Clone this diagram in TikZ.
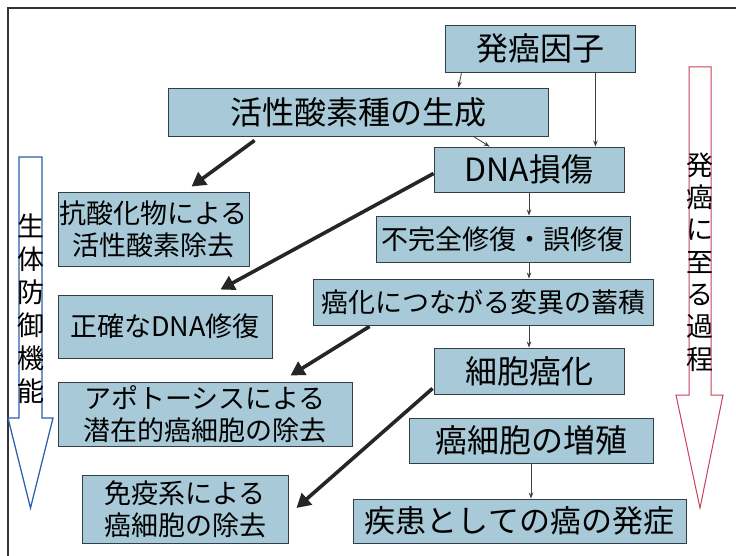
\documentclass[tikz,border=0pt]{standalone}
\usepackage{fontspec}
\setmainfont{Noto Sans CJK JP}
\usetikzlibrary{arrows.meta,calc}
\definecolor{boxfill}{RGB}{168,202,216}
\definecolor{boxline}{RGB}{50,62,72}
\definecolor{defblue}{RGB}{46,95,170}
\definecolor{procred}{RGB}{200,64,90}
\tikzset{
  box/.style={draw=boxline, fill=boxfill, line width=0.9pt, inner sep=0pt, align=center, text=black},
  big/.style={font=\fontsize{32}{36}\selectfont},
  mid/.style={font=\fontsize{27}{32}\selectfont},
  thin arrow/.style={draw=black!75, line width=0.8pt, -{Stealth[length=6pt,width=4.5pt]}},
  thick arrow/.style={draw=black!85, line width=3.6pt, -{Triangle[length=14pt,width=15pt]}},
  side/.style={font=\fontsize{27}{33}\selectfont, align=center, inner sep=0pt}
}
\begin{document}
\begin{tikzpicture}[x=1pt,y=-1pt]
\useasboundingbox (0,0) rectangle (736,556);
\fill[white] (0,0) rectangle (736,556);
% frame
\draw[black!80, line width=1.2pt] (736,8) -- (8,8) -- (8,556);

% process boxes
\node[box,big,minimum width=190pt,minimum height=47pt] (n1) at (540,48.5) {発癌因子};
\node[box,big,minimum width=380pt,minimum height=48pt] (n2) at (358,112) {活性酸素種の生成};
\node[box,big,minimum width=190pt,minimum height=45pt] (n3) at (529,169.5) {DNA損傷};
\node[box,mid,minimum width=254pt,minimum height=46pt] (n4) at (503,239) {不完全修復・誤修復};
\node[box,mid,minimum width=340pt,minimum height=46pt] (n5) at (483,302) {癌化につながる変異の蓄積};
\node[box,big,minimum width=190pt,minimum height=46pt] (n6) at (529,371) {細胞癌化};
\node[box,big,minimum width=244pt,minimum height=45pt] (n7) at (531,440.5) {癌細胞の増殖};
\node[box,font=\fontsize{31}{36}\selectfont,minimum width=333pt,minimum height=44pt] (n8) at (519.5,521) {疾患としての癌の発症};

% defence boxes
\node[box,mid,minimum width=191pt,minimum height=74pt] (m1) at (153.5,229) {抗酸化物による\\活性酸素除去};
\node[box,mid,minimum width=214pt,minimum height=63pt] (m2) at (165,326.5) {正確なDNA修復};
\node[box,mid,minimum width=294pt,minimum height=64pt] (m3) at (205,414) {アポトーシスによる\\潜在的癌細胞の除去};
\node[box,mid,minimum width=206pt,minimum height=68pt] (m4) at (185,509) {免疫系による\\癌細胞の除去};

% thin arrows
\draw[thin arrow] ($(n1.south west)+(17,0)$) -- ($(n2.north east)+(-90,0)$);
\draw[thin arrow] ($(n1.south east)+(-40,0)$) -- ($(n3.north east)+(-29,0)$);
\draw[thin arrow] ($(n2.south east)+(-75,0)$) -- ($(n3.north west)+(56,0)$);
\draw[thin arrow] (n3.south) -- (n3.south |- n4.north);
\draw[thin arrow] (n4.south -| n3.south) -- (n5.north -| n3.south);
\draw[thin arrow] (n5.south -| n6.north) -- (n6.north);
\draw[thin arrow] (n7.south) -- (n7.south |- n8.north);

% thick arrows
\draw[thick arrow] ($(n2.south west)+(87,4)$) -- ($(m1.north west)+(134,-5)$);
\draw[thick arrow] ($(n3.west)+(0,4)$) -- ($(m2.north east)+(-52,-5)$);
\draw[thick arrow] ($(n5.south west)+(57,1)$) -- ($(m3.north east)+(-62,-6)$);
\draw[thick arrow] ($(n6.south west)+(-1,-6)$) -- ($(m4.east)+(8,-1)$);

% side arrows
\draw[defblue, line width=1.3pt, fill=white] (19,157) -- (42,157) -- (42,418) -- (53,418) -- (30.5,508) -- (8,418) -- (19,418) -- cycle;
\node[side] (defl) at (30.5,308.5) {生\\体\\防\\御\\機\\能};
\draw[procred, line width=1pt, fill=white] (689,67) -- (711,67) -- (711,395) -- (723,395) -- (700,508) -- (676,395) -- (689,395) -- cycle;
\node[side, font=\fontsize{27}{32.3}\selectfont] (procl) at (700,262) {発\\癌\\に\\至\\る\\過\\程};
\end{tikzpicture}
\end{document}
